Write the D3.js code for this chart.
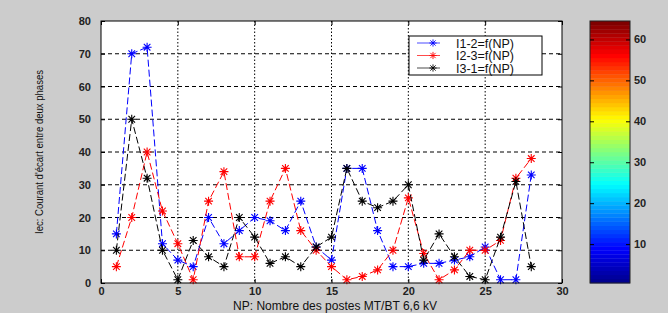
<!DOCTYPE html>
<html>
<head>
<meta charset="utf-8">
<script src="https://cdn.jsdelivr.net/npm/d3@7"></script>
<style>
  body { margin: 0; background: #cccccc; }
  svg { display: block; font-family: "Liberation Sans", Arial, sans-serif; }
</style>
</head>
<body>
<svg width="668" height="313"></svg>
<script>
// valeurs
const np = d3.range(1, 29);
const i12 = [15, 70, 72, 12, 7, 5, 20, 12, 16, 20, 19, 16, 25, 11, 7, 35, 35, 16, 5, 5, 6, 6, 7, 8, 11, 1, 1, 33];
const i23 = [5, 20, 40, 22, 12, 1, 25, 34, 8, 8, 25, 35, 16, 10, 5, 1, 2, 4, 10, 26, 9, 1, 4, 10, 10, 13, 32, 38];
const i31 = [10, 50, 32, 10, 1, 13, 8, 5, 20, 14, 6, 8, 5, 11, 14, 35, 25, 23, 25, 30, 7, 15, 8, 2, 1, 14, 31, 5];
const seriesNames = ["I1-2=f(NP)", "I2-3=f(NP)", "I3-1=f(NP)"];
const seriesColors = ["#0000ff", "#ff0000", "#000000"];
const xTicks = [0, 5, 10, 15, 20, 25, 30];
const yTicks = [0, 10, 20, 30, 40, 50, 60, 70, 80];
const cbTicks = [10, 20, 30, 40, 50, 60];

const svg = d3.select("svg");
const area = { left: 101, right: 562, top: 21, bottom: 283 };

const x = d3.scaleLinear().domain([0, 30]).range([area.left, area.right]);
const y = d3.scaleLinear().domain([0, 80]).range([area.bottom, area.top]);

// fond blanc des axes
svg.append("rect")
  .attr("x", area.left).attr("y", area.top)
  .attr("width", area.right - area.left).attr("height", area.bottom - area.top)
  .attr("fill", "#fff");

// grille
const grid = svg.append("g");
grid.selectAll(".gx").data(xTicks.slice(1, -1)).enter().append("line")
  .attr("x1", d => x(d)).attr("x2", d => x(d))
  .attr("y1", area.top).attr("y2", area.bottom)
  .attr("stroke", "#000").attr("stroke-width", 1).attr("stroke-dasharray", "1.5,2");
grid.selectAll(".gy").data(yTicks.slice(1, -1)).enter().append("line")
  .attr("x1", area.left).attr("x2", area.right)
  .attr("y1", d => y(d)).attr("y2", d => y(d))
  .attr("stroke", "#000").attr("stroke-width", 1).attr("stroke-dasharray", "4,3");

// courbes
const data = [i12, i23, i31];
const line = d3.line().x((d, i) => x(np[i])).y(d => y(d));
const star = "M-4.5,0L4.5,0M0,-4.5L0,4.5M-3.3,-3.3L3.3,3.3M-3.3,3.3L3.3,-3.3";

data.forEach((vals, k) => {
  svg.append("path")
    .attr("d", line(vals))
    .attr("fill", "none")
    .attr("stroke", seriesColors[k])
    .attr("stroke-width", 1)
    .attr("stroke-dasharray", "7,3");
  svg.append("g").selectAll("path").data(vals).enter().append("path")
    .attr("d", star)
    .attr("transform", (d, i) => `translate(${x(np[i])},${y(d)})`)
    .attr("stroke", seriesColors[k])
    .attr("stroke-width", 1.1)
    .attr("fill", "none");
});

// cadre et axes
svg.append("rect")
  .attr("x", area.left).attr("y", area.top)
  .attr("width", area.right - area.left).attr("height", area.bottom - area.top)
  .attr("fill", "none").attr("stroke", "#000").attr("stroke-width", 1);

svg.append("g")
  .attr("transform", `translate(0,${area.bottom})`)
  .call(d3.axisBottom(x).tickValues(xTicks).tickSizeInner(-4).tickSizeOuter(0).tickPadding(4));
svg.append("g")
  .attr("transform", `translate(${area.left},0)`)
  .call(d3.axisLeft(y).tickValues(yTicks).tickSizeInner(-4).tickSizeOuter(0).tickPadding(10));
// ticks du haut et de droite
svg.append("g").attr("transform", `translate(0,${area.top})`)
  .call(d3.axisTop(x).tickValues(xTicks).tickSizeInner(-4).tickSizeOuter(0).tickFormat(""));
svg.append("g").attr("transform", `translate(${area.right},0)`)
  .call(d3.axisRight(y).tickValues(yTicks).tickSizeInner(-4).tickSizeOuter(0).tickFormat(""));

svg.selectAll(".domain").remove();
svg.selectAll(".tick text")
  .attr("fill", "#222").style("font-size", "11px").style("font-weight", "bold")
  .style("font-family", "'Liberation Sans', Arial, sans-serif");

// libellés
svg.append("text")
  .attr("x", 335).attr("y", 310)
  .attr("text-anchor", "middle")
  .style("font-size", "12px").attr("fill", "#111")
  .text("NP: Nombre des postes MT/BT 6,6 kV");
svg.append("text")
  .attr("transform", `translate(43,${(area.top + area.bottom) / 2}) rotate(-90)`)
  .attr("text-anchor", "middle")
  .style("font-size", "10.5px").attr("fill", "#111")
  .attr("textLength", 164).attr("lengthAdjust", "spacingAndGlyphs")
  .text("Iec: Courant d'écart entre deux phases");

// légende
const lg = svg.append("g");
lg.append("rect")
  .attr("x", 409).attr("y", 36).attr("width", 133).attr("height", 39)
  .attr("fill", "#fff").attr("stroke", "#000").attr("stroke-width", 1);
seriesNames.forEach((name, k) => {
  const ly = 43 + k * 12.5;
  lg.append("line").attr("x1", 417).attr("x2", 440).attr("y1", ly).attr("y2", ly)
    .attr("stroke", seriesColors[k]).attr("stroke-width", 1).attr("opacity", 0.7);
  lg.append("path").attr("d", star).attr("transform", `translate(433,${ly}) scale(0.8)`)
    .attr("stroke", seriesColors[k]).attr("fill", "none").attr("stroke-width", 1.1);
  lg.append("text").attr("x", 456).attr("y", ly + 4.5)
    .style("font-size", "12.5px").attr("fill", "#111").text(name);
});

// barre de couleurs (jet, 64 niveaux)
const cb = { left: 590, right: 630, top: 21, bottom: 283 };
const jetStops = [[0, [0, 0, 0.5625]], [0.125, [0, 0, 1]], [0.375, [0, 1, 1]], [0.625, [1, 1, 0]], [0.875, [1, 0, 0]], [1, [0.5, 0, 0]]];
function jetColor(t) {
  for (let i = 1; i < jetStops.length; i++) {
    if (t <= jetStops[i][0]) {
      const [t0, c0] = jetStops[i - 1], [t1, c1] = jetStops[i];
      const f = (t - t0) / (t1 - t0);
      const c = c0.map((v, j) => Math.round(255 * (v + (c1[j] - v) * f)));
      return `rgb(${c[0]},${c[1]},${c[2]})`;
    }
  }
  return "rgb(128,0,0)";
}
const cy = d3.scaleLinear().domain([0.5, 64.5]).range([cb.bottom, cb.top]);
const levels = d3.range(1, 65);
svg.append("g").selectAll("rect").data(levels).enter().append("rect")
  .attr("x", cb.left).attr("width", cb.right - cb.left)
  .attr("y", d => cy(d + 0.5)).attr("height", d => cy(d - 0.5) - cy(d + 0.5) + 0.3)
  .attr("fill", d => jetColor((d - 1) / 63));
svg.append("rect")
  .attr("x", cb.left).attr("y", cb.top).attr("width", cb.right - cb.left).attr("height", cb.bottom - cb.top)
  .attr("fill", "none").attr("stroke", "#222").attr("stroke-width", 1);
const cba = svg.append("g").attr("transform", `translate(${cb.right},0)`)
  .call(d3.axisRight(cy).tickValues(cbTicks).tickSizeInner(-4).tickSizeOuter(0).tickPadding(4));
svg.append("g").attr("transform", `translate(${cb.left},0)`)
  .call(d3.axisLeft(cy).tickValues(cbTicks).tickSizeInner(-4).tickSizeOuter(0).tickFormat(""));
svg.selectAll(".domain").remove();
cba.selectAll(".tick text")
  .attr("fill", "#222").style("font-size", "11px").style("font-weight", "bold")
  .style("font-family", "'Liberation Sans', Arial, sans-serif");
</script>
</body>
</html>
